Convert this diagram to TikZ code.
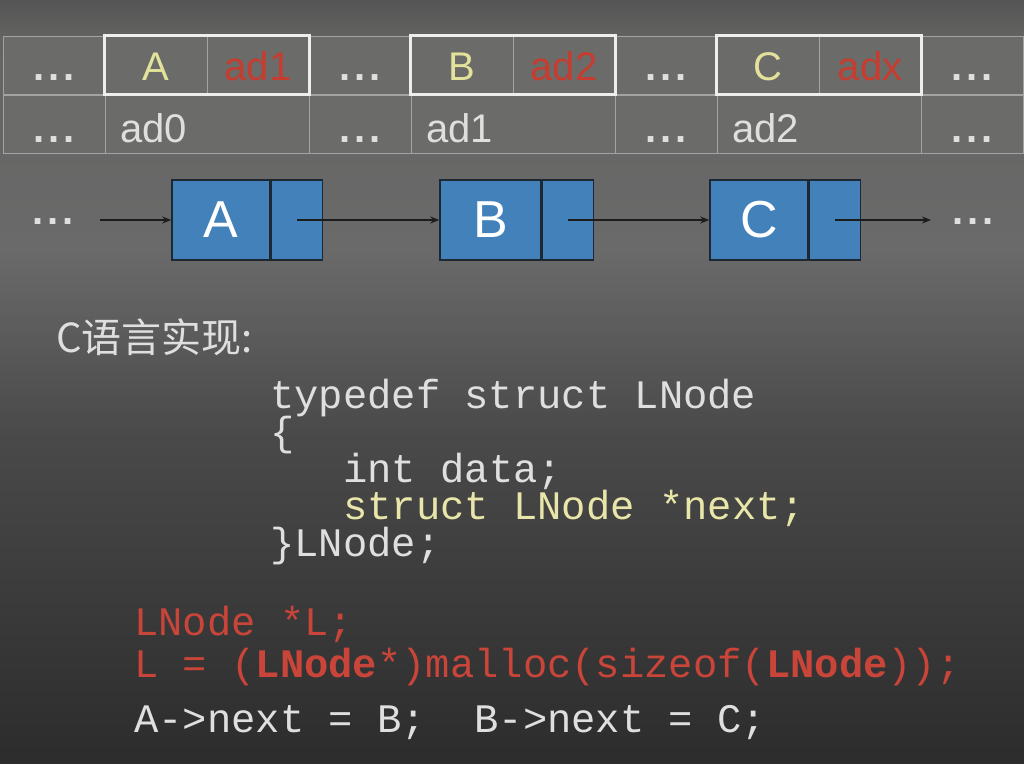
\documentclass[tikz,border=0pt]{standalone}
\usepackage{fontspec}
\setmainfont{Liberation Sans}
\newfontfamily\cjkfont{Noto Sans CJK SC}
\newfontfamily\codefont{Liberation Mono}
\usetikzlibrary{arrows.meta}
\definecolor{yel}{HTML}{E2E29A}
\definecolor{redt}{HTML}{C63D30}
\definecolor{gridc}{HTML}{A3A39F}
\definecolor{cellf}{HTML}{6B6B69}
\definecolor{hlc}{HTML}{EEEEEE}
\definecolor{nodeblue}{HTML}{4281BA}
\definecolor{nodeedge}{HTML}{1E2833}
\definecolor{arrc}{HTML}{1C1C1C}
\definecolor{codew}{HTML}{DFDFDF}
\definecolor{codey}{HTML}{E8E6A8}
\definecolor{codered}{HTML}{C9453A}
\definecolor{bgA}{HTML}{555555}
\definecolor{bgB}{HTML}{646463}
\definecolor{bgC}{HTML}{6A6A6A}
\definecolor{bgD}{HTML}{4A4A4A}
\definecolor{bgE}{HTML}{2C2C2C}
\tikzset{
  cell/.style={draw=gridc, line width=1pt, fill=cellf, minimum width=102pt,
    minimum height=58pt, inner sep=0pt, text height=30pt, text depth=0pt,
    font=\fontsize{40}{40}\selectfont, text=codew},
  lowcell/.style={cell, text height=36pt},
  widecell/.style={lowcell, minimum width=204pt, text width=174pt, inner xsep=15pt, align=left},
  hl/.style={draw=hlc, line width=2.2pt},
  lnode/.style={draw=nodeedge, line width=1.6pt, fill=nodeblue, minimum height=80pt,
    inner sep=0pt, text=white, font=\fontsize{52}{52}\selectfont},
  arr/.style={draw=arrc, line width=1.3pt, -{Stealth[length=9pt,width=7pt]}},
  dots/.style={anchor=base, inner sep=0pt, text=codew, font=\fontsize{40}{40}\selectfont},
  codeline/.style={anchor=base west, inner sep=0pt, text=codew,
    font=\codefont\fontsize{40.5}{37}\selectfont},
}
\newcommand{\dd}{\textbf{.\hspace{4pt}.\hspace{4pt}.}}
\begin{document}
\frenchspacing
\begin{tikzpicture}[x=1pt,y=-1pt]
\useasboundingbox (0,0) rectangle (1024,763);
% background
\shade[top color=bgA, bottom color=bgB] (0,0) rectangle (1024,41);
\shade[top color=bgB, bottom color=bgC] (0,40) rectangle (1024,251);
\shade[top color=bgC, bottom color=bgD] (0,250) rectangle (1024,431);
\shade[top color=bgD, bottom color=bgE] (0,430) rectangle (1024,763);
% memory table, top row
\node[cell] (t1) at (54,65) {\dd};
\node[cell, text=yel] (tA) at (156,65) {A};
\node[cell, text=redt] (t2) at (258,65) {ad1};
\node[cell] (t3) at (360,65) {\dd};
\node[cell, text=yel] (tB) at (462,65) {B};
\node[cell, text=redt] (t4) at (564,65) {ad2};
\node[cell] (t5) at (666,65) {\dd};
\node[cell, text=yel] (tC) at (768,65) {C};
\node[cell, text=redt] (t6) at (870,65) {adx};
\node[cell] (t7) at (972,65) {\dd};
% bottom row
\node[lowcell] (b1) at (54,124) {\dd};
\node[widecell] (b2) at (207,124) {ad0};
\node[lowcell] (b3) at (360,124) {\dd};
\node[widecell] (b4) at (513,124) {ad1};
\node[lowcell] (b5) at (666,124) {\dd};
\node[widecell] (b6) at (819,124) {ad2};
\node[lowcell] (b7) at (972,124) {\dd};
% highlight boxes
\draw[hl] (tA.north west) rectangle (t2.south east);
\draw[hl] (tB.north west) rectangle (t4.south east);
\draw[hl] (tC.north west) rectangle (t6.south east);
% linked list
\node[lnode, minimum width=98pt] (Adata) at (221,220) {A};
\node[lnode, minimum width=51pt, anchor=west] (Aptr) at (Adata.east) {};
\node[lnode, minimum width=101pt] (Bdata) at (490.5,220) {B};
\node[lnode, minimum width=51pt, anchor=west] (Bptr) at (Bdata.east) {};
\node[lnode, minimum width=98pt] (Cdata) at (759,220) {C};
\node[lnode, minimum width=51pt, anchor=west] (Cptr) at (Cdata.east) {};
\node[dots] (ldots) at (53,224) {\dd};
\node[dots] (rdots) at (973,224) {\dd};
\coordinate (s0) at (100,220);
\coordinate (e0) at (931,220);
\draw[arr] (s0) -- (Adata);
\draw[arr] (Aptr.center) -- (Bdata);
\draw[arr] (Bptr.center) -- (Cdata);
\draw[arr] (Cptr.center) -- (e0);
% title
\node[anchor=base west, inner sep=0pt, text=codew, font=\cjkfont\fontsize{40}{40}\selectfont] (title) at (56,352) {C语言实现:};
% code
\node[codeline] (l1) at (270,408) {typedef struct LNode};
\node[codeline] (l2) at (270,445) {\{};
\node[codeline] (l3) at (343,482) {int data;};
\node[codeline, text=codey] (l4) at (343,519) {struct LNode *next;};
\node[codeline] (l5) at (270,556) {\}LNode;};
\node[codeline, text=codered] (r1) at (134,635) {LNode *L;};
\node[codeline, text=codered] (r2) at (134,677) {L = (\textbf{LNode}*)malloc(sizeof(\textbf{LNode}));};
\node[codeline] (r3) at (134,732) {A->next = B;~~B->next = C;};
\end{tikzpicture}
\end{document}
